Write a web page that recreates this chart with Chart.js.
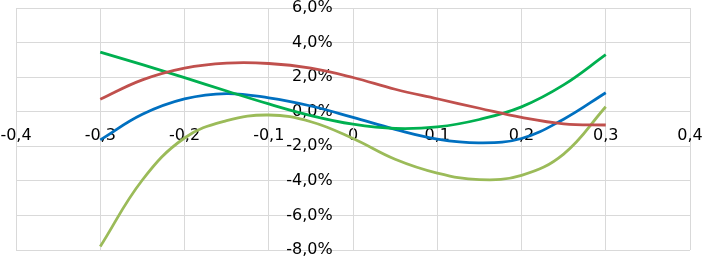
<!DOCTYPE html>
<html>
<head>
	<title>Curves</title>
	<script src="https://cdn.jsdelivr.net/npm/chart.js"></script>
	<style>
		html, body {
			margin: 0;
			padding: 0;
			background: #ffffff;
		}
		#wrap {
			width: 703px;
			height: 260px;
		}
	</style>
</head>
<body>
	<div id="wrap"><canvas id="myChart" width="703" height="260"></canvas></div>
	<script>
		// x positions and values (in %)
		var xs = [-0.3, -0.25, -0.2, -0.15, -0.1, -0.05, 0, 0.05, 0.1, 0.15, 0.2, 0.25, 0.3];
		var redValues   = [0.72, 1.84, 2.52, 2.81, 2.79, 2.52, 1.98, 1.3, 0.75, 0.2, -0.33, -0.7, -0.77];
		var greenValues = [3.45, 2.72, 1.97, 1.2, 0.45, -0.22, -0.72, -0.97, -0.88, -0.45, 0.28, 1.55, 3.3];
		var blueValues  = [-1.63, -0.15, 0.74, 1.05, 0.8, 0.33, -0.33, -1.02, -1.58, -1.8, -1.55, -0.43, 1.1];
		var oliveValues = [-7.8, -3.95, -1.52, -0.52, -0.19, -0.58, -1.55, -2.75, -3.55, -3.93, -3.68, -2.45, 0.29];

		var xTickValues = [-0.4, -0.3, -0.2, -0.1, 0, 0.1, 0.2, 0.3, 0.4];
		var xTickLabels = ['-0,4', '-0,3', '-0,2', '-0,1', '0', '0,1', '0,2', '0,3', '0,4'];
		var yTickValues = [-8, -6, -4, -2, 0, 2, 4, 6];
		var yTickLabels = ['-8,0%', '-6,0%', '-4,0%', '-2,0%', '0,0%', '2,0%', '4,0%', '6,0%'];

		function toPoints(values) {
			var pts = [];
			for (var i = 0; i < xs.length; i++) {
				pts.push({x: xs[i], y: values[i]});
			}
			return pts;
		}

		function curve(values, color) {
			return {
				data: toPoints(values),
				borderColor: color,
				borderWidth: 2.8,
				pointRadius: 0,
				fill: false,
				tension: 0.4
			};
		}

		// axes sit inside the plot, so they should not push the plot area in
		function noPadding(scale) {
			scale.paddingTop = 0;
			scale.paddingBottom = 0;
			scale.paddingLeft = 0;
			scale.paddingRight = 0;
		}

		var gridColor = '#d9d9d9';
		var labelFont = {family: '"DejaVu Sans", Arial, sans-serif', size: 16};
		var ctx = document.getElementById('myChart').getContext('2d');
		var chart = new Chart(ctx, {
			type: 'line',
			data: {
				datasets: [
					curve(redValues, '#c0504d'),
					curve(greenValues, '#00b050'),
					curve(blueValues, '#0070c0'),
					curve(oliveValues, '#9bbb59')
				]
			},
			options: {
				responsive: false,
				animation: false,
				layout: {
					padding: {left: 16, right: 13, top: 8, bottom: 10}
				},
				plugins: {
					legend: {display: false},
					tooltip: {enabled: false}
				},
				scales: {
					x: {
						type: 'linear',
						position: {y: 0},
						min: -0.4,
						max: 0.4,
						afterFit: noPadding,
						afterBuildTicks: function(axis) {
							axis.ticks = xTickValues.map(function(v) { return {value: v}; });
						},
						ticks: {
							autoSkip: false,
							maxRotation: 0,
							padding: 15,
							color: '#000000',
							font: labelFont,
							callback: function(value, index) { return xTickLabels[index]; }
						},
						grid: {color: gridColor, lineWidth: 1, drawTicks: false},
						border: {color: gridColor, width: 1}
					},
					y: {
						type: 'linear',
						position: {x: 0},
						min: -8,
						max: 6,
						afterFit: noPadding,
						afterBuildTicks: function(axis) {
							axis.ticks = yTickValues.map(function(v) { return {value: v}; });
						},
						ticks: {
							autoSkip: false,
							color: '#000000',
							font: labelFont,
							// labels hang off the axis line, keep a gap of about 19px
							callback: function(value, index) { return yTickLabels[index] + '    '; }
						},
						grid: {color: gridColor, lineWidth: 1, drawTicks: false},
						border: {color: gridColor, width: 1}
					}
				}
			}
		});
	</script>
</body>
</html>
